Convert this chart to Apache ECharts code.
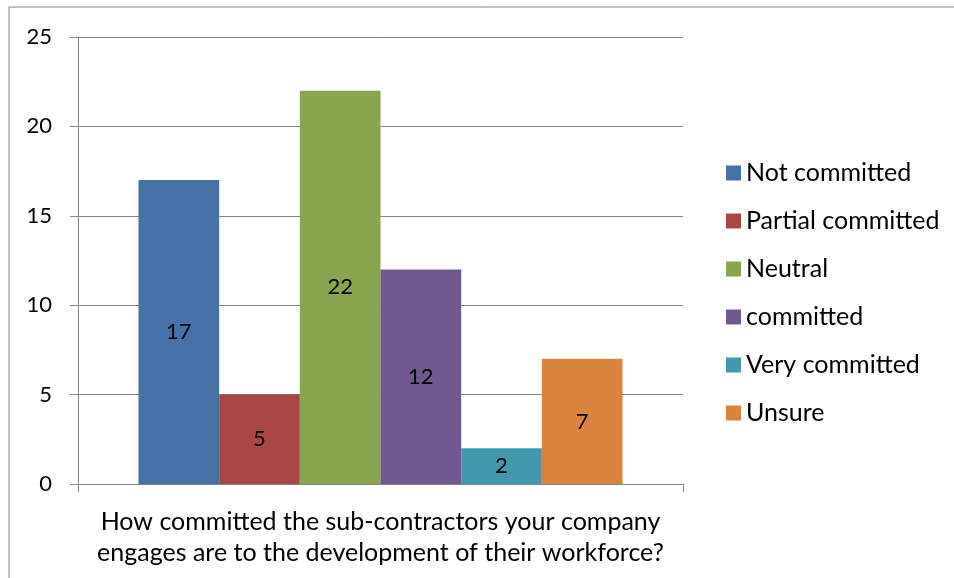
<!DOCTYPE html>
<html>
<head>
<meta charset="utf-8">
<script src="https://cdn.jsdelivr.net/npm/echarts@6/dist/echarts.min.js"></script>
<style>
  html, body { margin: 0; padding: 0; background: #fff; }
  #chart { width: 954px; height: 578px; }
</style>
</head>
<body>
<div id="chart"></div>
<script>
// category (the survey question) and answer series
var categories = ["How committed the sub-contractors your company\nengages are to the development of their workforce?"];
var seriesNames = ["Not committed", "Partial committed", "Neutral", "committed", "Very committed", "Unsure"];
var seriesValues = [17, 5, 22, 12, 2, 7];
var seriesColors = ["#4572A7", "#AA4643", "#89A54E", "#71588F", "#4198AF", "#DB843D"];

var fontFamily = "Lato, 'Noto Sans', sans-serif";

var series = seriesNames.map(function (name, i) {
  return {
    name: name,
    type: "bar",
    data: [seriesValues[i]],
    barGap: 0,
    barCategoryGap: "20%",
    itemStyle: { color: seriesColors[i] },
    label: {
      show: true,
      position: "inside",
      color: "#000",
      fontSize: 22,
      fontFamily: fontFamily
    }
  };
});

var chart = echarts.init(document.getElementById("chart"));
chart.setOption({
  animation: false,
  textStyle: { fontFamily: fontFamily },
  grid: { left: 78, top: 37, width: 605, height: 447 },
  legend: {
    orient: "vertical",
    left: 726,
    top: 160,
    padding: 0,
    itemWidth: 15,
    itemHeight: 15,
    itemGap: 22,
    icon: "rect",
    textStyle: { fontSize: 25, color: "#000", lineHeight: 26, fontFamily: fontFamily },
    data: seriesNames
  },
  xAxis: {
    type: "category",
    data: categories,
    axisLine: { lineStyle: { color: "#868686", width: 1 } },
    axisTick: { show: true, length: 8, lineStyle: { color: "#868686" } },
    axisLabel: {
      color: "#000",
      fontSize: 25,
      lineHeight: 31,
      margin: 22,
      fontFamily: fontFamily
    }
  },
  yAxis: {
    type: "value",
    min: 0,
    max: 25,
    interval: 5,
    axisLine: { show: true, lineStyle: { color: "#868686", width: 1 } },
    axisTick: { show: true, length: 8, lineStyle: { color: "#868686" } },
    axisLabel: { color: "#000", fontSize: 22, margin: 26, fontFamily: fontFamily },
    splitLine: { lineStyle: { color: "#868686", width: 1 } }
  },
  graphic: [
    { type: "line", shape: { x1: 9, y1: 7, x2: 954, y2: 7 }, style: { stroke: "#868686", lineWidth: 1 } },
    { type: "line", shape: { x1: 9, y1: 7, x2: 9, y2: 578 }, style: { stroke: "#868686", lineWidth: 1 } }
  ],
  series: series
});
</script>
</body>
</html>
